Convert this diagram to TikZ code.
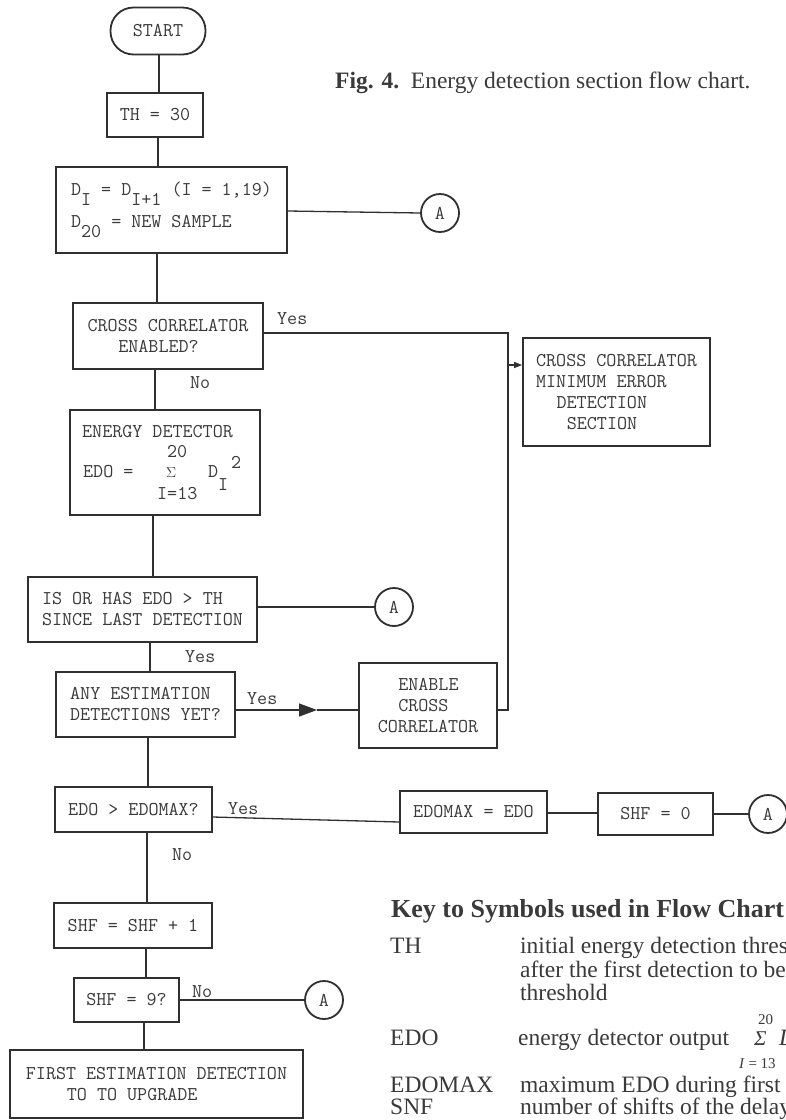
\documentclass[tikz,border=0pt]{standalone}
\usepackage{fontspec}
\setmainfont{Liberation Serif}
\usetikzlibrary{arrows.meta}
\definecolor{ink}{RGB}{48,48,48}
\definecolor{txt}{RGB}{58,58,58}
\newcommand\tw{\fontsize{19.5pt}{21pt}\selectfont\ttfamily}
\newcommand\lw[1]{\raisebox{-10pt}{#1}}
\begin{document}
\begin{tikzpicture}[x=1pt,y=-1pt,
  box/.style={draw=ink, line width=1.8pt, inner sep=0pt, align=left, font=\tw, text=txt},
  term/.style={box, rounded corners=23pt},
  conn/.style={circle, draw=ink, line width=1.8pt, minimum size=38pt, inner sep=0pt, font=\tw, text=txt},
  flow/.style={draw=ink, line width=1.3pt},
  lab/.style={anchor=base west, inner sep=0pt, font=\tw, text=txt},
  key/.style={anchor=base west, inner sep=0pt, font=\fontsize{23.5pt}{25pt}\selectfont, text=txt},
  small/.style={key, font=\fontsize{15pt}{16pt}\selectfont}]
\useasboundingbox (0,0) rectangle (786,1120);
\fill[white] (0,0) rectangle (786,1120);
\clip (0,0) rectangle (786,1120);

% caption
\node[key, font=\fontsize{23.5pt}{25pt}\selectfont] (cap) at (335,88) {\textbf{Fig. 4.}\ \ Energy detection section flow chart.};

% boxes
\node[term, minimum width=95pt, minimum height=47pt] (start) at (158,31) {START};
\node[box, minimum width=96pt, minimum height=44pt] (th) at (155,115) {TH = 30};
\node[box, minimum width=231pt, minimum height=86pt, font=\fontsize{19.5pt}{32pt}\selectfont\ttfamily] (dd) at (171.5,210)
  {D\lw{I} = D\lw{I+1} (I = 1,19)\\D\lw{20} = NEW SAMPLE};
\node[conn] (a1) at (440,213) {A};
\node[box, minimum width=190pt, minimum height=66pt] (cc) at (168,336)
  {CROSS CORRELATOR\\\hspace*{30.7pt}ENABLED?};
\node[box, minimum width=187pt, minimum height=108pt] (ccm) at (616.5,392)
  {CROSS CORRELATOR\\MINIMUM ERROR\\\hspace*{20.5pt}DETECTION\\\hspace*{30.7pt}SECTION};
\node[box, minimum width=190pt, minimum height=105pt] (ed) at (165,462.5) {};
\node[lab] (e1) at (82,437) {ENERGY DETECTOR};
\node[lab] (e2) at (167,457) {20};
\node[lab] (e3) at (83,477) {EDO =};
\node[lab, font=\fontsize{15pt}{15pt}\selectfont] (e4) at (166,477) {$\Sigma$};
\node[lab] (e5) at (208,477) {D};
\node[lab] (e6) at (218,490) {I};
\node[lab] (e7) at (231,468) {2};
\node[lab] (e8) at (157,499) {I=13};
\node[box, minimum width=229pt, minimum height=65pt] (is) at (142.5,609.5)
  {IS OR HAS EDO > TH\\SINCE LAST DETECTION};
\node[conn] (a2) at (394,607) {A};
\node[box, minimum width=179pt, minimum height=65pt] (any) at (145.5,704.5)
  {ANY ESTIMATION\\DETECTIONS YET?};
\node[box, minimum width=138pt, minimum height=85pt] (en) at (428,705.5)
  {\hspace*{20.5pt}ENABLE\\\hspace*{20.5pt}CROSS\\CORRELATOR};
\node[box, minimum width=157pt, minimum height=45pt] (edo) at (133.5,809.5) {EDO > EDOMAX?};
\node[box, minimum width=147pt, minimum height=42pt] (edm) at (473.5,812) {EDOMAX = EDO};
\node[box, minimum width=115pt, minimum height=42pt] (sh0) at (655.5,814) {SHF = 0};
\node[conn] (a3) at (768,814) {A};
\node[box, minimum width=158pt, minimum height=45pt] (sh1) at (133,925.5) {SHF = SHF + 1};
\node[box, minimum width=105pt, minimum height=44pt] (sh9) at (126.5,1000) {SHF = 9?};
\node[conn] (a4) at (324,1000) {A};
\node[box, minimum width=293pt, minimum height=68pt] (fi) at (156.5,1084)
  {FIRST ESTIMATION DETECTION\\\hspace*{41pt}TO TO UPGRADE};

% helper x positions
\coordinate (v1) at (159,0);
\coordinate (v2) at (158,0);
\coordinate (v3) at (157,0);
\coordinate (v4) at (155,0);
\coordinate (v5) at (153,0);
\coordinate (v6) at (150,0);
\coordinate (v7) at (148,0);
\coordinate (v8) at (147,0);
\coordinate (v9) at (146,0);
\coordinate (v10) at (144,0);

% vertical flow
\draw[flow] (start.south -| v1) -- (th.north -| v1);
\draw[flow] (th.south -| v2) -- (dd.north -| v2);
\draw[flow] (dd.south -| v3) -- (cc.north -| v3);
\draw[flow] (cc.south -| v4) -- (ed.north -| v4);
\draw[flow] (ed.south -| v5) -- (is.north -| v5);
\draw[flow] (is.south -| v6) -- (any.north -| v6);
\draw[flow] (any.south -| v7) -- (edo.north -| v7);
\draw[flow] (edo.south -| v8) -- (sh1.north -| v8);
\draw[flow] (sh1.south -| v9) -- (sh9.north -| v9);
\draw[flow] (sh9.south -| v10) -- (fi.north -| v10);

% horizontal flow
\draw[flow] ([yshift=-1pt]dd.east) -- (a1.west);
\coordinate (j1) at (508,333);
\coordinate (j2) at (508,710);
\coordinate (j3) at (508,365);
\draw[flow] (cc.east |- j1) -- (j1) -- (j2) -- (en.east |- j2);
\draw[flow, -{Triangle[length=8pt,width=6pt]}] (j3) -- (ccm.west |- j3);
\draw[flow] (is.east |- a2) -- (a2.west);
\coordinate (ah) at (317,710);
\draw[flow, -{Triangle[length=18pt,width=13pt]}] (any.east |- ah) -- (ah);
\draw[flow] (ah) -- (en.west |- ah);
\draw[flow] ([yshift=-7.5pt]edo.east) -- ([yshift=-10pt]edm.west);
\draw[flow] ([yshift=-1pt]edm.east) -- ([yshift=1pt]sh0.west);
\draw[flow] (sh0.east) -- (a3.west);
\draw[flow] (sh9.east |- a4) -- (a4.west);

% labels
\node[lab] (l1) at (277,324) {Yes};
\node[lab] (l2) at (190,388) {No};
\node[lab] (l3) at (185,662) {Yes};
\node[lab] (l4) at (247,704) {Yes};
\node[lab] (l5) at (228,814) {Yes};
\node[lab] (l6) at (172,860) {No};
\node[lab] (l7) at (192,997) {No};

% key
\node[key, font=\fontsize{26pt}{28pt}\selectfont\bfseries] (kh) at (391,917) {Key to Symbols used in Flow Chart};
\node[key] (k1) at (390,953) {TH};
\node[key] (k1a) at (520,953) {initial energy detection threshold};
\node[key] (k1b) at (520,977) {after the first detection to become};
\node[key] (k1c) at (520,1000) {threshold};
\node[key] (k2) at (390,1045) {EDO};
\node[key] (k2a) at (518,1045) {energy detector output};
\node[key, font=\fontsize{21pt}{22pt}\selectfont] (k2s) at (754,1045) {\itshape Σ};
\node[small] (k2t) at (758,1024) {20};
\node[small] (k2b) at (739,1068) {\textit{I} = 13};
\node[key] (k2d) at (779,1045) {\itshape D};
\node[key] (k3) at (390,1092) {EDOMAX};
\node[key] (k3a) at (520,1092) {maximum EDO during first};
\node[key] (k4) at (390,1114) {SNF};
\node[key] (k4a) at (520,1114) {number of shifts of the delay};
\end{tikzpicture}
\end{document}
